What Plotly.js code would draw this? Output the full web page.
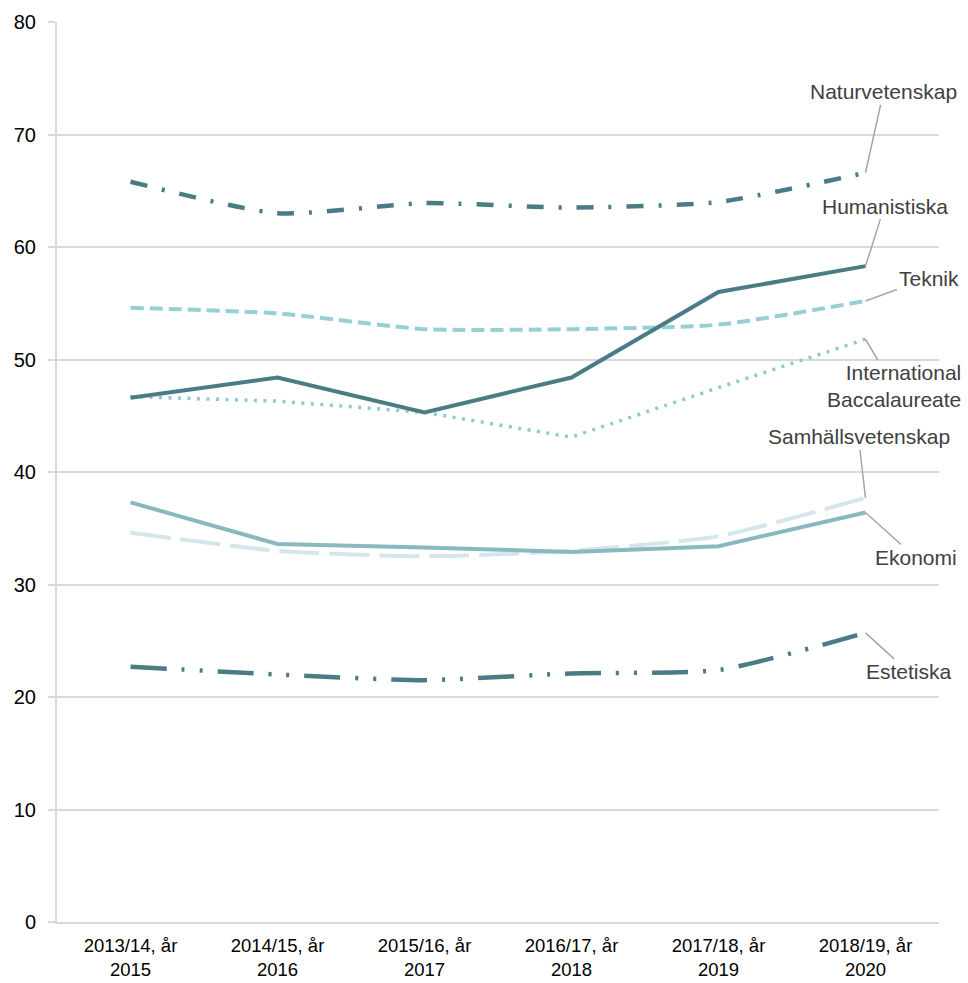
<!DOCTYPE html>
<html>
<head>
<meta charset="utf-8">
<script src="https://cdn.plot.ly/plotly-3.0.1.min.js"></script>
<style>html,body{margin:0;padding:0;background:#fff;}#chart{width:968px;height:983px;}</style>
</head>
<body>
<div id="chart"></div>
<script>
const categories = ["2013/14, år<br>2015","2014/15, år<br>2016","2015/16, år<br>2017","2016/17, år<br>2018","2017/18, år<br>2019","2018/19, år<br>2020"];
const naturvetenskap = [65.8, 63.0, 63.9, 63.5, 64.0, 66.6];
const humanistiska = [46.6, 48.4, 45.3, 48.4, 56.0, 58.3];
const teknik = [54.6, 54.1, 52.7, 52.7, 53.1, 55.2];
const ib = [46.7, 46.3, 45.3, 43.1, 47.5, 51.8];
const samhall = [34.6, 33.0, 32.5, 33.0, 34.3, 37.7];
const ekonomi = [37.3, 33.6, 33.3, 32.9, 33.4, 36.4];
const estetiska = [22.7, 22.0, 21.5, 22.1, 22.4, 25.7];
const yTicks = [0, 10, 20, 30, 40, 50, 60, 70, 80];

const xs = categories.map((c, i) => i);
const dark = "#4a7c86";
function tr(y, color, dash, width, shape) {
  return {x: xs, y: y, type: "scatter", mode: "lines",
    line: {color: color, dash: dash, width: width, shape: shape || "linear", smoothing: 0.6},
    hoverinfo: "skip", showlegend: false};
}
const data = [
  tr(samhall, "#d4e6ea", "40px,10px", 4, "spline"),
  tr(ekonomi, "#89b8c0", "solid", 4),
  tr(estetiska, dark, "36px,15px,3px,15px,3px,15px", 4.5, "spline"),
  tr(ib, "#8ecbcf", "3px,6.5px", 3.5),
  tr(teknik, "#97d0d3", "13px,6px", 4, "spline"),
  tr(humanistiska, dark, "solid", 4),
  tr(naturvetenskap, dark, "17px,15px,3px,15px", 4.5, "spline")
];

function ann(text, y, ax, ay, align) {
  return {x: 5, y: y, xref: "x", yref: "y", text: text, showarrow: true, arrowhead: 0,
    arrowwidth: 1.5, arrowcolor: "#a6a6a6", ax: ax, ay: ay, align: align || "center",
    font: {family: "Liberation Sans, Arial, sans-serif", size: 21, color: "#404040"}, standoff: 0};
}
const n = naturvetenskap.length - 1;
const annotations = [
  ann("Naturvetenskap", naturvetenskap[n], 18, -81),
  ann("Humanistiska", humanistiska[n], 19, -60),
  ann("Teknik", teknik[n], 63, -23),
  ann("International<br>Baccalaureate", ib[n], 28, 47, "right"),
  ann("Samhällsvetenskap", samhall[n], -7, -61),
  ann("Ekonomi", ekonomi[n], 50, 45),
  ann("Estetiska", estetiska[n], 43, 39)
];

const layout = {
  width: 968, height: 983,
  margin: {l: 57, r: 29, t: 22, b: 61},
  paper_bgcolor: "#fff", plot_bgcolor: "#fff",
  font: {family: "Liberation Sans, Arial, sans-serif", size: 18, color: "#000"},
  xaxis: {range: [-0.5, 5.5], tickvals: xs, ticktext: categories, showgrid: false,
    showline: true, linecolor: "#d9d9d9", linewidth: 2, ticks: "", zeroline: false, fixedrange: true,
    ticklabelstandoff: 6, tickfont: {size: 18.5, color: "#000"}},
  yaxis: {range: [0, 80], tickvals: yTicks, showgrid: true, gridcolor: "#d9d9d9", gridwidth: 2,
    showline: true, linecolor: "#d9d9d9", linewidth: 2, ticks: "outside", ticklen: 7, tickcolor: "#d9d9d9",
    tickwidth: 2, zeroline: false, fixedrange: true, ticklabelstandoff: 8, tickfont: {size: 20, color: "#000"}},
  annotations: annotations,
  showlegend: false
};
Plotly.newPlot("chart", data, layout, {displayModeBar: false, staticPlot: true});
</script>
</body>
</html>
